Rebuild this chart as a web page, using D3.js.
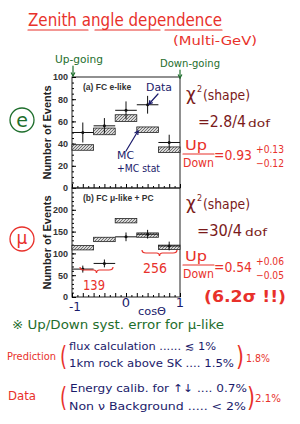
<!DOCTYPE html>
<html>
<head>
<meta charset="utf-8">
<script src="https://cdn.jsdelivr.net/npm/d3@7"></script>
<style>
  body { margin: 0; background: #fff; }
  svg { display: block; }
  .hand { font-family: "DejaVu Sans", sans-serif; }
  .print { font-family: "Liberation Sans", Arial, sans-serif; }
</style>
</head>
<body>
<div id="chart"></div>
<script>
// zenith angle bins (cos theta)
var binEdges = [-1, -0.6, -0.2, 0.2, 0.6, 1];

// (a) FC e-like
var eData = [50, 56, 70, 75, 41];
var eDataErr = [9, 7, 8, 8, 7];
var eMC = [36.5, 51, 63, 52.5, 34.5];
var eMCErr = [2.5, 3, 3, 2.5, 2.5];

// (b) FC mu-like + PC
var muData = [64, 77, 138, 144, 117];
var muDataErr = [8, 9, 10, 10, 10];
var muMC = [113, 132, 175, 142, 114];
var muMCErr = [5, 5, 5, 5, 5];

var eTicks = [0, 20, 40, 60, 80, 100];
var muTicks = [0, 50, 100, 150, 200];

var red = "#e8312b", green = "#1e6e2c", navy = "#1b1b6b", brown = "#7a1a1a";

var svg = d3.select("#chart").append("svg")
    .attr("width", 300).attr("height", 424);

// hatch for the MC boxes
var pat = svg.append("defs").append("pattern")
    .attr("id", "hatch").attr("patternUnits", "userSpaceOnUse")
    .attr("width", 3).attr("height", 3);
pat.append("rect").attr("width", 3).attr("height", 3).attr("fill", "#d8d8d8");
pat.append("path").attr("d", "M0,3 L3,0").attr("stroke", "#555").attr("stroke-width", 0.8);

var x = d3.scaleLinear().domain([-1, 1]).range([72, 180]);

function panel(top, bottom, ymax, ticks, minor, data, dErr, mc, mcErr, label) {
    var y = d3.scaleLinear().domain([0, ymax]).range([bottom, top]);
    var g = svg.append("g");

    g.append("rect").attr("x", x(-1)).attr("y", top)
        .attr("width", x(1) - x(-1)).attr("height", bottom - top)
        .attr("fill", "none").attr("stroke", "#222").attr("stroke-width", 1);

    // y axis
    g.append("g").attr("class", "print")
        .attr("transform", "translate(" + x(-1) + ",0)")
        .call(d3.axisLeft(y).tickValues(ticks).tickSizeInner(-4).tickSizeOuter(0).tickPadding(4))
        .call(function(a) {
            a.select(".domain").remove();
            a.selectAll("text").attr("font-size", 9).attr("font-weight", "bold").attr("fill", "#333");
        });
    g.append("g")
        .attr("transform", "translate(" + x(-1) + ",0)")
        .call(d3.axisLeft(y).tickValues(d3.range(0, ymax, minor)).tickSize(-2).tickFormat(""))
        .call(function(a) { a.select(".domain").remove(); });

    // x ticks
    g.append("g")
        .attr("transform", "translate(0," + bottom + ")")
        .call(d3.axisBottom(x).tickValues(d3.range(-1, 1.001, 0.2)).tickSize(-4).tickFormat(""))
        .call(function(a) { a.select(".domain").remove(); });
    g.append("g")
        .attr("transform", "translate(0," + bottom + ")")
        .call(d3.axisBottom(x).tickValues(d3.range(-0.9, 1, 0.2)).tickSize(-2).tickFormat(""))
        .call(function(a) { a.select(".domain").remove(); });

    // MC boxes
    g.selectAll(".mc").data(mc).enter().append("rect")
        .attr("x", function(d, i) { return x(binEdges[i]); })
        .attr("width", function(d, i) { return x(binEdges[i + 1]) - x(binEdges[i]); })
        .attr("y", function(d, i) { return y(d + mcErr[i]); })
        .attr("height", function(d, i) { return y(d - mcErr[i]) - y(d + mcErr[i]); })
        .attr("fill", "url(#hatch)").attr("stroke", "#222").attr("stroke-width", 0.8);

    // data points
    var pts = g.selectAll(".pt").data(data).enter().append("g");
    pts.append("line")
        .attr("x1", function(d, i) { return x(binEdges[i]); })
        .attr("x2", function(d, i) { return x(binEdges[i + 1]); })
        .attr("y1", function(d) { return y(d); })
        .attr("y2", function(d) { return y(d); })
        .attr("stroke", "#111").attr("stroke-width", 1);
    pts.append("line")
        .attr("x1", function(d, i) { return x((binEdges[i] + binEdges[i + 1]) / 2); })
        .attr("x2", function(d, i) { return x((binEdges[i] + binEdges[i + 1]) / 2); })
        .attr("y1", function(d, i) { return y(d - dErr[i]); })
        .attr("y2", function(d, i) { return y(d + dErr[i]); })
        .attr("stroke", "#111").attr("stroke-width", 1);
    pts.append("circle")
        .attr("cx", function(d, i) { return x((binEdges[i] + binEdges[i + 1]) / 2); })
        .attr("cy", function(d) { return y(d); })
        .attr("r", 1.5).attr("fill", "#111");

    g.append("text").attr("class", "print")
        .attr("x", 83).attr("y", top + 13)
        .attr("font-size", 8.5).attr("font-weight", "bold").attr("fill", "#333")
        .text(label);

    g.append("text").attr("class", "print")
        .attr("transform", "translate(51," + ((top + bottom) / 2) + ") rotate(-90)")
        .attr("text-anchor", "middle")
        .attr("font-size", 11).attr("font-weight", "bold").attr("fill", "#222")
        .text("Number of Events");
    return y;
}

var yE = panel(77, 188, 100, eTicks, 5, eData, eDataErr, eMC, eMCErr, "(a) FC e-like");
var yM = panel(188, 297, 250, muTicks, 10, muData, muDataErr, muMC, muMCErr, "(b) FC \u03bc-like + PC");

function txt(str, px, py, size, color, opts) {
    opts = opts || {};
    var t = svg.append("text").attr("class", "hand")
        .attr("x", px).attr("y", py)
        .attr("font-size", size).attr("fill", color)
        .attr("text-anchor", opts.anchor || "start")
        .attr("font-weight", opts.weight || "normal")
        .text(str);
    if (opts.len) t.attr("textLength", opts.len).attr("lengthAdjust", "spacingAndGlyphs");
    return t;
}
function line(x1, y1, x2, y2, color, w) {
    svg.append("line").attr("x1", x1).attr("y1", y1).attr("x2", x2).attr("y2", y2)
        .attr("stroke", color).attr("stroke-width", w || 1.2).attr("stroke-linecap", "round");
}
function arrow(x1, y1, x2, y2, color) {
    line(x1, y1, x2, y2, color);
    var a = Math.atan2(y2 - y1, x2 - x1), s = 4;
    svg.append("path")
        .attr("d", "M" + (x2 - s * Math.cos(a - 0.5)) + "," + (y2 - s * Math.sin(a - 0.5)) +
            "L" + x2 + "," + y2 + "L" + (x2 - s * Math.cos(a + 0.5)) + "," + (y2 - s * Math.sin(a + 0.5)))
        .attr("fill", "none").attr("stroke", color).attr("stroke-width", 1.2);
}

// title
txt("Zenith angle dependence", 28, 26, 17, red, {len: 194});
line(28, 30, 88, 30, red); line(95, 30, 160, 30, red); line(165, 30, 222, 30, red);
txt("(Multi-GeV)", 173, 45, 13, red, {len: 84});

// up / down going
txt("Up-going", 55, 63, 11, green, {len: 48});
arrow(73, 66, 73, 76, green);
txt("Down-going", 160, 67, 11, green, {len: 60});
arrow(180, 70, 180, 78, green);

// particle circles
svg.append("circle").attr("cx", 22).attr("cy", 120).attr("r", 12)
    .attr("fill", "none").attr("stroke", green).attr("stroke-width", 1.3);
txt("e", 22, 127, 19, green, {anchor: "middle"});
svg.append("circle").attr("cx", 22).attr("cy", 239).attr("r", 12)
    .attr("fill", "none").attr("stroke", red).attr("stroke-width", 1.3);
txt("\u03bc", 22, 244, 17, red, {anchor: "middle"});

// annotations on top panel
txt("Data", 146, 91, 11, navy, {len: 26});
arrow(158, 94, 149, 104, navy);
txt("MC", 117, 159, 11, navy, {len: 17});
txt("+MC stat", 117, 172, 11, navy, {len: 43});
arrow(126, 151, 138, 131, navy);

// braces on bottom panel
function brace(x1, x2, yy, color) {
    var m = (x1 + x2) / 2;
    svg.append("path")
        .attr("d", "M" + x1 + "," + (yy - 3) + " Q" + x1 + "," + yy + " " + (x1 + 4) + "," + yy +
            " L" + (m - 3) + "," + yy + " Q" + m + "," + yy + " " + m + "," + (yy + 3) +
            " Q" + m + "," + yy + " " + (m + 3) + "," + yy +
            " L" + (x2 - 4) + "," + yy + " Q" + x2 + "," + yy + " " + x2 + "," + (yy - 3))
        .attr("fill", "none").attr("stroke", color).attr("stroke-width", 1.2);
}
brace(80, 113, 270, red);
txt("139", 83, 290, 14, red, {len: 22});
brace(142, 177, 253, red);
txt("256", 143, 273, 14, red, {len: 24});

// x labels
txt("-1", 75, 311, 12, navy, {anchor: "middle"});
txt("0", 126, 307, 13, navy, {anchor: "middle"});
txt("1", 180, 307, 13, navy, {anchor: "middle"});
txt("cos\u0398", 138, 315, 11, navy, {len: 28});

// right side text
txt("\u03c7", 186, 100, 17, brown);
txt("2", 197, 92, 8, brown);
txt("(shape)", 203, 100, 14, brown, {len: 47});
txt("=2.8/4", 198, 127, 15, brown, {len: 48});
txt("dof", 248, 127, 11, brown, {len: 22});
txt("Up", 185, 150, 14, red, {len: 22});
line(183, 154, 214, 154, red);
txt("Down", 183, 167, 12, red, {len: 31});
txt("=0.93", 214, 160, 14, red, {len: 38});
txt("+0.13", 256, 153, 10, red, {len: 28});
txt("\u22120.12", 256, 167, 10, red, {len: 28});

txt("\u03c7", 186, 209, 17, brown);
txt("2", 197, 201, 8, brown);
txt("(shape)", 203, 209, 14, brown, {len: 47});
txt("=30/4", 197, 236, 15, brown, {len: 45});
txt("dof", 245, 236, 11, brown, {len: 22});
txt("Up", 185, 261, 14, red, {len: 22});
line(183, 265, 214, 265, red);
txt("Down", 183, 278, 12, red, {len: 31});
txt("=0.54", 214, 272, 14, red, {len: 38});
txt("+0.06", 256, 265, 10, red, {len: 28});
txt("\u22120.05", 256, 279, 10, red, {len: 28});
txt("(6.2\u03c3 !!)", 204, 302, 16, red, {len: 82, weight: "bold"});

// systematic errors
txt("\u203b Up/Down syst. error for \u03bc-like", 12, 329, 12.5, green, {len: 212});
txt("Prediction", 7, 360, 11, red, {len: 49});
txt("(", 60, 365, 26, red, {len: 7});
txt("flux calculation ...... \u2272 1%", 69, 350, 11, navy, {len: 147});
txt("1km rock above SK .... 1.5%", 69, 367, 11, navy, {len: 165});
txt(")", 236, 365, 26, red, {len: 8});
txt("1.8%", 246, 362, 11, red, {len: 24});

txt("Data", 8, 400, 12, red, {len: 28});
txt("(", 60, 406, 26, red, {len: 7});
txt("Energy calib. for \u2191\u2193 .... 0.7%", 70, 392, 11, navy, {len: 177});
txt("Non \u03bd Background ..... < 2%", 69, 410, 11, navy, {len: 177});
txt(")", 247, 406, 26, red, {len: 8});
txt("2.1%", 255, 402, 11, red, {len: 26});
</script>
</body>
</html>
